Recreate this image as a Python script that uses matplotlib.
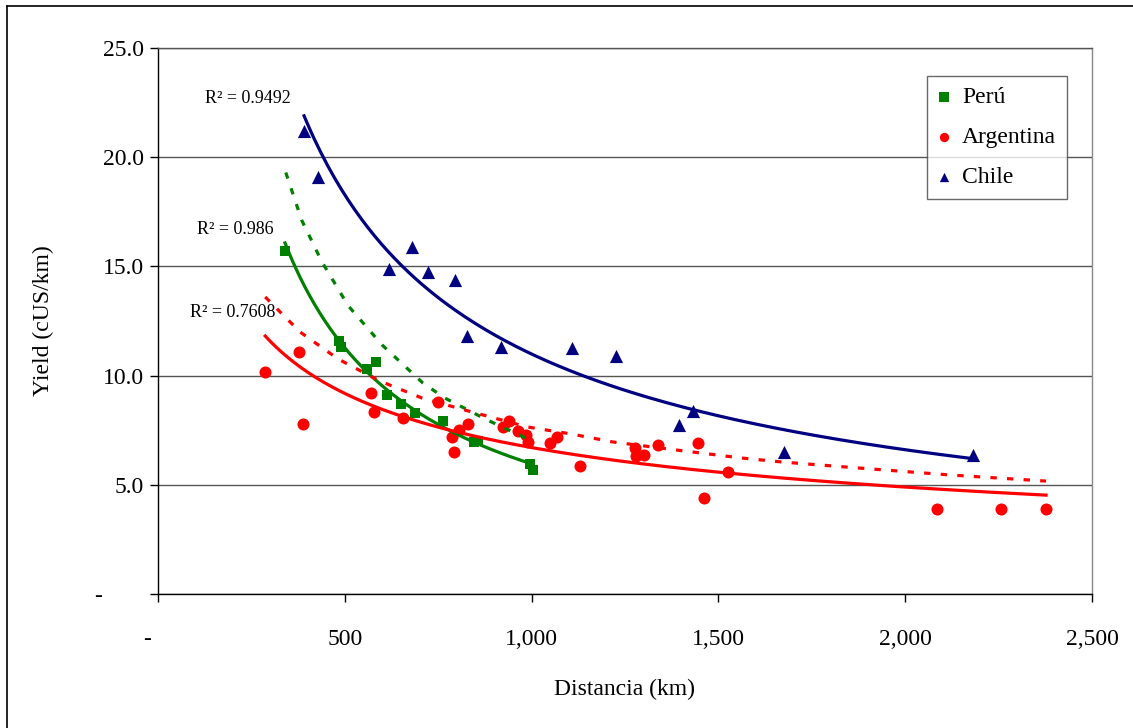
import matplotlib.pyplot as plt
import numpy as np
from matplotlib.lines import Line2D
from matplotlib.transforms import ScaledTranslation

plt.rcParams['font.family'] = ['Liberation Serif', 'DejaVu Serif']

# data
peru_x = [340, 484, 490, 560, 584, 613, 650, 688, 763, 846, 857, 995, 1003]
peru_y = [15.7, 11.6, 11.3, 10.3, 10.6, 9.1, 8.7, 8.3, 7.9, 6.95, 7.0, 5.95, 5.7]

arg_x = [287, 377, 388, 570, 578, 655, 750, 787, 792, 806, 830, 924, 940, 964, 985,
         991, 1049, 1068, 1130, 1277, 1279, 1301, 1339, 1445, 1461, 1525, 2085, 2257, 2377]
arg_y = [10.15, 11.1, 7.8, 9.2, 8.35, 8.05, 8.8, 7.2, 6.5, 7.5, 7.8, 7.65, 7.9, 7.45, 7.3,
         6.95, 6.9, 7.2, 5.85, 6.7, 6.3, 6.35, 6.8, 6.9, 4.4, 5.6, 3.9, 3.9, 3.9]

chile_x = [391, 428, 618, 680, 723, 795, 827, 918, 1108, 1226, 1395, 1432, 1676, 2181]
chile_y = [21.2, 19.1, 14.9, 15.9, 14.75, 14.4, 11.8, 11.3, 11.25, 10.9, 7.75, 8.4, 6.5, 6.35]

# dashed curves
peru_dash_x = [342, 385, 439, 509, 600, 709, 768, 881, 996]
peru_dash_y = [19.3, 17.1, 15.2, 13.2, 11.4, 9.66, 8.97, 7.97, 7.05]
arg_dash_x = [287, 380, 482, 594, 707, 822, 988, 1105, 1218, 1389, 1560, 1673, 1852, 2120, 2377]
arg_dash_y = [13.6, 12.0, 10.76, 9.75, 8.97, 8.42, 7.65, 7.33, 6.96, 6.59, 6.23, 6.04, 5.8, 5.45, 5.17]

r2_labels = ['R² = 0.9492', 'R² = 0.986', 'R² = 0.7608']

x_ticks = [0, 500, 1000, 1500, 2000, 2500]
x_ticklabels = ['-', '500', '1,000', '1,500', '2,000', '2,500']
y_ticks = [0, 5, 10, 15, 20, 25]
y_ticklabels = ['-', '5.0', '10.0', '15.0', '20.0', '25.0']

GREEN = '#008000'
RED = '#FF0000'
NAVY = '#000080'


def power_fit(x, y):
    x = np.asarray(x, float)
    y = np.asarray(y, float)
    b, lna = np.polyfit(np.log(x), np.log(y), 1)
    xs = np.linspace(x.min(), x.max(), 200)
    return xs, np.exp(lna) * xs ** b


fig = plt.figure(figsize=(11.33, 7.28), dpi=100)
ax = fig.add_axes([158 / 1133, 1 - 594 / 728, (1092 - 158) / 1133, (594 - 48) / 728])

ax.scatter(peru_x, peru_y, marker='s', s=60, color=GREEN, zorder=3, label='Perú', linewidths=0)
ax.scatter(arg_x, arg_y, marker='o', s=75, color=RED, zorder=3, label='Argentina', linewidths=0)
ax.scatter(chile_x, chile_y, marker='^', s=90, color=NAVY, zorder=3, label='Chile', linewidths=0)

for xs, ys, c in [(chile_x, chile_y, NAVY), (peru_x, peru_y, GREEN), (arg_x, arg_y, RED)]:
    fx, fy = power_fit(xs, ys)
    ax.plot(fx, fy, color=c, lw=2.3, zorder=4)

ax.plot(peru_dash_x, peru_dash_y, color=GREEN, lw=2.3, dashes=(2.0, 3.2), zorder=4,
        dash_capstyle='butt')
ax.plot(arg_dash_x, arg_dash_y, color=RED, lw=2.3, dashes=(2.0, 3.2), zorder=4,
        dash_capstyle='butt')

ax.text(126, 22.67, r2_labels[0], fontsize=13, va='center')
ax.text(104, 16.7, r2_labels[1], fontsize=13, va='center')
ax.text(86, 12.87, r2_labels[2], fontsize=13, va='center')

ax.set_xlim(0, 2500)
ax.set_ylim(0, 25)
ax.set_xticks(x_ticks)
ax.set_xticklabels(x_ticklabels)
ax.set_yticks(y_ticks)
ax.set_yticklabels(y_ticklabels)
ax.tick_params(axis='both', direction='out', length=6, width=1, labelsize=17, color='black')
ax.tick_params(axis='x', pad=19)
ax.tick_params(axis='y', pad=4)

ax.grid(axis='y', color='#555555', lw=1)
ax.set_axisbelow(True)
ax.spines['left'].set_color('black')
ax.spines['bottom'].set_color('black')
ax.spines['top'].set_color('#555555')
ax.spines['right'].set_color('#888888')
for s in ax.spines.values():
    s.set_linewidth(1)

# accounting-style zero labels sit off the tick
ylab = ax.get_yticklabels()[0]
ylab.set_transform(ylab.get_transform() + ScaledTranslation(-0.42, 0, fig.dpi_scale_trans))
xlab = ax.get_xticklabels()[0]
xlab.set_transform(xlab.get_transform() + ScaledTranslation(-0.11, 0, fig.dpi_scale_trans))

ax.set_xlabel('Distancia (km)', fontsize=17)
ax.set_ylabel('Yield (cUS/km)', fontsize=17)
ax.xaxis.set_label_coords(0.5, (594 - 689) / 546)
ax.xaxis.label.set_va('center')
ax.yaxis.set_label_coords((43 - 158) / 934, 0.5)
ax.yaxis.label.set_va('center')

leg = ax.legend(loc='upper left', bbox_to_anchor=((927 - 158) / 934, (594 - 76) / 546),
                fontsize=17, frameon=True, fancybox=False, borderpad=0.44,
                handletextpad=0.5, handlelength=0.55, labelspacing=0.79, borderaxespad=0)
leg.get_frame().set_edgecolor('#444444')
leg.get_frame().set_linewidth(1)
for h in leg.legend_handles:
    h.set_sizes([45])

# outer chart border
fig.add_artist(Line2D([7 / 1133, 7 / 1133], [0, 1 - 6 / 728], color='black', lw=1.2))
fig.add_artist(Line2D([7 / 1133, 1], [1 - 6 / 728, 1 - 6 / 728], color='black', lw=1.2))

plt.savefig('out.png', dpi=100)
plt.close(fig)
